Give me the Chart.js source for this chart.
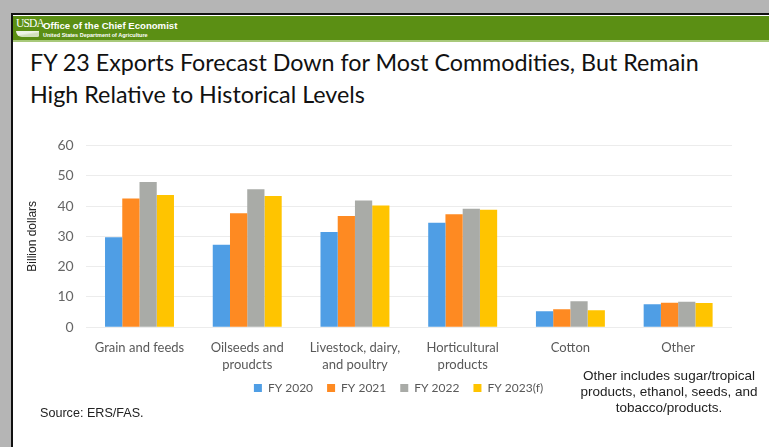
<!DOCTYPE html>
<html>
<head>
<meta charset="utf-8">
<script src="https://cdn.jsdelivr.net/npm/chart.js@4.4.0/dist/chart.umd.min.js"></script>
<style>
  body {
    margin: 0;
    width: 769px;
    height: 447px;
    overflow: hidden;
    background: #b5b5b5;
    font-family: "Liberation Sans", Arial, sans-serif;
  }
  .slide {
    position: absolute;
    left: 11px;
    top: 13px;
    width: 758px;
    height: 432px;
    background: #fff;
    border-left: 2px solid #111;
    border-top: 2px solid #111;
  }
  .header {
    position: absolute;
    left: 0;
    top: 1px;
    width: 100%;
    height: 24px;
    background: #5b8f14;
    border-bottom: 2px solid #a8c97a;
  }
  .logo {
    position: absolute;
    left: 3px;
    top: 1px;
    color: #fff;
    font-family: "Liberation Serif", serif;
    font-size: 11.5px;
    letter-spacing: -0.8px;
  }
  .logo-swoosh {
    position: absolute;
    left: 3px;
    top: 15px;
    width: 23px;
    height: 6px;
    background: linear-gradient(170deg, #fff 40%, #dfe9cf 60%);
    border-radius: 0 0 2px 8px;
    opacity: 0.9;
  }
  .office {
    position: absolute;
    left: 30px;
    top: 4px;
    color: #fff;
    font-weight: bold;
    font-size: 9.6px;
  }
  .dept {
    position: absolute;
    left: 30px;
    top: 16px;
    color: #fff;
    font-weight: bold;
    font-size: 5.5px;
  }
  .title {
    position: absolute;
    left: 17px;
    top: 31px;
    color: #111;
    font-family: Lato, sans-serif;
    font-size: 23.3px;
    line-height: 32px;
  }
  .note {
    position: absolute;
    left: 546px;
    top: 353px;
    width: 220px;
    text-align: center;
    color: #222;
    font-size: 13.5px;
    line-height: 16px;
  }
  .source {
    position: absolute;
    left: 27px;
    top: 391px;
    color: #222;
    font-size: 12.6px;
  }
  #chartBox {
    position: absolute;
    left: 7px;
    top: 110px;
    width: 725px;
    height: 285px;
  }
</style>
</head>
<body>
<div class="slide">
  <div class="header">
    <div class="logo">USDA</div>
    <div class="logo-swoosh"></div>
    <div class="office">Office of the Chief Economist</div>
    <div class="dept">United States Department of Agriculture</div>
  </div>
  <div class="title">FY 23 Exports Forecast Down for Most Commodities, But Remain<br>High Relative to Historical Levels</div>
  <div id="chartBox"><canvas id="chart"></canvas></div>
  <div class="note">Other includes sugar/tropical<br>products, ethanol, seeds, and<br>tobacco/products.</div>
  <div class="source">Source: ERS/FAS.</div>
</div>

<script>
// Export value by commodity group, billion dollars
const categories = [
  ["Grain and feeds"],
  ["Oilseeds and", "proudcts"],
  ["Livestock, dairy,", "and poultry"],
  ["Horticultural", "products"],
  ["Cotton"],
  ["Other"]
];
const fy2020 = [29.7, 27.2, 31.4, 34.5, 5.3, 7.6];
const fy2021 = [42.5, 37.6, 36.7, 37.3, 5.9, 8.1];
const fy2022 = [47.9, 45.5, 41.8, 39.1, 8.6, 8.4];
const fy2023 = [43.6, 43.3, 40.2, 38.8, 5.6, 8.0];
const yTicks = [0, 10, 20, 30, 40, 50, 60];

const tickColor = "#595959";

// legend sits a bit right of centre and close under the labels, like on the slide
const legendTweak = {
  id: "legendTweak",
  beforeUpdate(chart) {
    const lg = chart.legend;
    if (lg && !lg._tweaked) {
      const fit = lg.fit.bind(lg);
      lg.fit = function () {
        fit();
        this.height -= 7;
      };
      lg._tweaked = true;
    }
  },
  afterLayout(chart) {
    const lg = chart.legend;
    lg.left += 20;
    lg.right += 20;
    lg.top -= 9;
    lg.bottom -= 9;
  }
};

new Chart(document.getElementById("chart"), {
  type: "bar",
  data: {
    labels: categories,
    datasets: [
      { label: "FY 2020", data: fy2020, backgroundColor: "#4f9ee5" },
      { label: "FY 2021", data: fy2021, backgroundColor: "#fe8a22" },
      { label: "FY 2022", data: fy2022, backgroundColor: "#a9aba7" },
      { label: "FY 2023(f)", data: fy2023, backgroundColor: "#ffc400" }
    ]
  },
  options: {
    responsive: true,
    maintainAspectRatio: false,
    animation: false,
    layout: { padding: { top: 12, right: 13, bottom: 4, left: 5 } },
    datasets: {
      bar: { categoryPercentage: 0.64, barPercentage: 1, borderWidth: 0 }
    },
    scales: {
      x: {
        grid: { display: false },
        border: { display: false },
        ticks: {
          color: tickColor,
          font: { family: "Lato", size: 13, lineHeight: 1.3 },
          maxRotation: 0,
          padding: 4
        }
      },
      y: {
        min: 0,
        max: 60,
        afterBuildTicks(axis) {
          axis.ticks = yTicks.map((v) => ({ value: v }));
        },
        grid: { color: "#ececec", drawTicks: false },
        border: { display: false },
        ticks: {
          color: "#666",
          font: { family: "Lato", size: 14 },
          padding: 12
        },
        title: {
          display: true,
          text: "Billion dollars",
          color: "#222",
          font: { family: "Liberation Sans", size: 12 },
          padding: { top: 0, bottom: 6 }
        }
      }
    },
    plugins: {
      legend: {
        position: "bottom",
        labels: {
          boxWidth: 8,
          boxHeight: 8,
          padding: 14,
          color: tickColor,
          font: { family: "Lato", size: 12 }
        }
      },
      tooltip: { enabled: false }
    }
  },
  plugins: [legendTweak]
});
</script>
</body>
</html>
